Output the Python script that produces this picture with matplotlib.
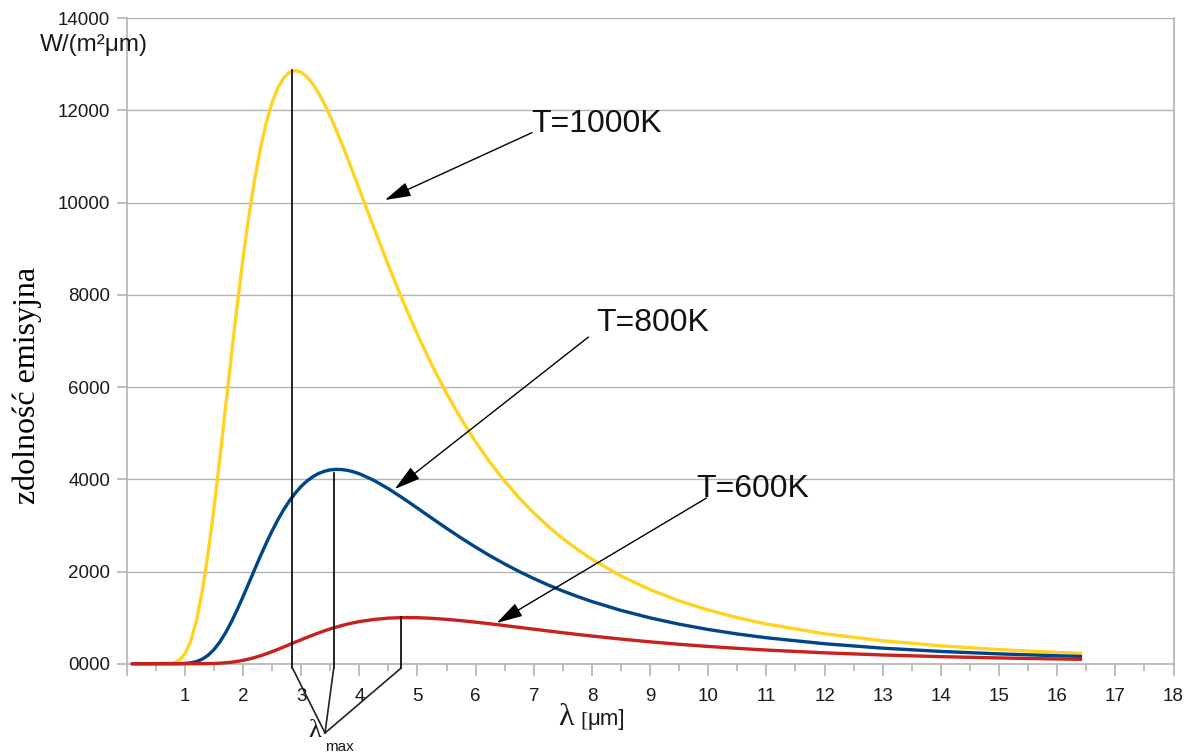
import matplotlib
matplotlib.use("Agg")
import matplotlib.pyplot as plt
from matplotlib.ticker import MultipleLocator

plt.rcParams['font.family'] = ['Liberation Sans', 'DejaVu Sans']

# wavelength [um]
lam = [0.1, 0.5, 0.8, 0.9, 1.0, 1.1, 1.2, 1.3, 1.4, 1.5, 1.6, 1.7, 1.8, 1.9,
       2.0, 2.1, 2.2, 2.3, 2.4, 2.5, 2.6, 2.7, 2.8, 2.9, 3.0, 3.1, 3.2, 3.3,
       3.4, 3.5, 3.6, 3.7, 3.8, 3.9, 4.0, 4.25, 4.5, 4.75, 5.0, 5.25, 5.5, 5.75,
       6.0, 6.25, 6.5, 6.75, 7.0, 7.25, 7.5, 7.75, 8.0, 8.5, 9.0, 9.5, 10.0, 10.5,
       11.0, 12.0, 13.0, 14.0, 15.0, 16.0, 16.4]

# emissive power W/(m^2 um)
T1000 = [0, 0, 18, 72, 211, 485, 933, 1573, 2394, 3364, 4438, 5563, 6690, 7777,
         8789, 9703, 10503, 11181, 11736, 12171, 12493, 12708, 12828, 12866, 12829, 12729, 12575, 12376,
         12140, 11874, 11585, 11279, 10959, 10630, 10296, 9459, 8641, 7864, 7139, 6472, 5863, 5310,
         4812, 4362, 3958, 3595, 3269, 2977, 2714, 2478, 2266, 1902, 1606, 1363, 1164, 998,
         861, 649, 498, 388, 306, 245, 225]
T800 = [0, 0, 0.2, 1.3, 6, 18, 47, 99, 183, 306, 469, 670, 907, 1171,
        1454, 1748, 2045, 2337, 2617, 2880, 3123, 3342, 3536, 3703, 3846, 3963, 4056, 4126,
        4174, 4204, 4216, 4211, 4193, 4162, 4121, 3978, 3796, 3591, 3374, 3154, 2937, 2728,
        2528, 2339, 2163, 1999, 1847, 1706, 1577, 1458, 1348, 1156, 994, 857, 742, 645,
        563, 433, 337, 266, 213, 172, 158]
T600 = [0, 0, 0, 0, 0.01, 0.08, 0.3, 1.0, 2.5, 5.6, 11, 20, 32, 50,
        73, 101, 134, 172, 215, 262, 311, 362, 415, 468, 520, 572, 621, 668,
        713, 755, 793, 828, 860, 888, 913, 960, 988, 1000, 998, 984, 962, 934,
        901, 865, 827, 788, 749, 710, 672, 635, 600, 534, 474, 421, 374, 333,
        296, 236, 189, 153, 125, 103, 95]

# lambda_max markers (x position, top value)
lmax_x = [2.85, 3.56, 4.72]
lmax_top = [12870, 4136, 1013]

y_ticks = [0, 2000, 4000, 6000, 8000, 10000, 12000, 14000]
y_labels = ['0000', '2000', '4000', '6000', '8000', '10000', '12000', '14000']
x_ticks = list(range(0, 19))
x_labels = [''] + [str(i) for i in range(1, 19)]

fig = plt.figure(figsize=(11.87, 7.55), dpi=100)
ax = fig.add_axes([126.7 / 1187, 1 - 663.7 / 755, (1173.5 - 126.7) / 1187, (663.7 - 18.3) / 755])

grey = '#b3b3b3'
ax.set_xlim(0, 18)
ax.set_ylim(0, 14000)
ax.set_yticks(y_ticks)
ax.set_yticklabels(y_labels)
ax.set_xticks(x_ticks)
ax.set_xticklabels(x_labels)
ax.xaxis.set_minor_locator(MultipleLocator(0.5))
ax.grid(axis='y', color=grey, linewidth=1.0)
ax.set_axisbelow(True)
for s in ['left', 'right', 'bottom']:
    ax.spines[s].set_color(grey)
    ax.spines[s].set_linewidth(1.2)
ax.spines['top'].set_visible(False)
ax.tick_params(axis='x', which='major', length=8.5, width=1.2, color=grey, pad=9,
               labelsize=13.5, labelcolor='#1a1a1a')
ax.tick_params(axis='x', which='minor', length=5, width=1.2, color=grey)
ax.tick_params(axis='y', which='major', length=7, width=1.2, color=grey, pad=5,
               labelsize=13.5, labelcolor='#1a1a1a')

ax.plot(lam, T1000, color='#ffd320', linewidth=2.4, clip_on=False, zorder=3,
        solid_joinstyle='round')
ax.plot(lam, T800, color='#004586', linewidth=2.4, clip_on=False, zorder=4,
        solid_joinstyle='round')
ax.plot(lam, T600, color='#c9211e', linewidth=2.4, clip_on=False, zorder=5,
        solid_joinstyle='round')

# lambda_max vertical lines and converging lines
y_bot = -93
conv = (3.41, -1503)
for xm, top in zip(lmax_x, lmax_top):
    ax.plot([xm, xm], [top, y_bot], color='black', linewidth=1.2, clip_on=False, zorder=6)
    ax.plot([xm, conv[0]], [y_bot, conv[1]], color='#222222', linewidth=1.2, clip_on=False, zorder=6)

ax.text(3.13, -1590, 'λ', fontsize=19, family=['Liberation Serif', 'DejaVu Serif'],
        ha='left', va='baseline', color='#1a1a1a')
ax.text(3.41, -1900, 'max', fontsize=11, ha='left', va='baseline', color='#1a1a1a')

# x axis label
ax.text(7.41, -1330, 'λ', fontsize=23, family=['Liberation Serif', 'DejaVu Serif'],
        ha='left', va='baseline', color='#1a1a1a')
ax.text(7.80, -1330, '[', fontsize=16, family=['Liberation Serif', 'DejaVu Serif'],
        ha='left', va='baseline', color='#1a1a1a')
ax.text(7.92, -1330, 'μm]', fontsize=16, ha='left', va='baseline', color='#1a1a1a')

# annotations
annots = [('T=1000K', (6.95, 11533), (4.44, 10058), (6.97, 11520)),
          ('T=800K', (8.08, 7216), (4.61, 3789), (7.94, 7086)),
          ('T=600K', (9.80, 3616), (6.36, 883), (9.97, 3594))]
for label, tpos, tip, tail in annots:
    ax.text(tpos[0], tpos[1], label, fontsize=23, ha='left', va='baseline', color='#111111')
    ax.annotate('', xy=tip, xytext=tail,
                arrowprops=dict(arrowstyle='-|>,head_length=1.15,head_width=0.32',
                                mutation_scale=14, color='black', linewidth=1.0,
                                shrinkA=0, shrinkB=0), zorder=7)

fig.text(27 / 1187, 1 - 385 / 755, 'zdolność emisyjna', rotation=90, fontsize=23,
         family=['Liberation Serif', 'DejaVu Serif'], ha='center', va='center', color='black')
fig.text(40 / 1187, 1 - 45 / 755, 'W/(m²μm)', fontsize=17.5, ha='left', va='center', color='#1a1a1a')

fig.savefig('out.png', dpi=100)
